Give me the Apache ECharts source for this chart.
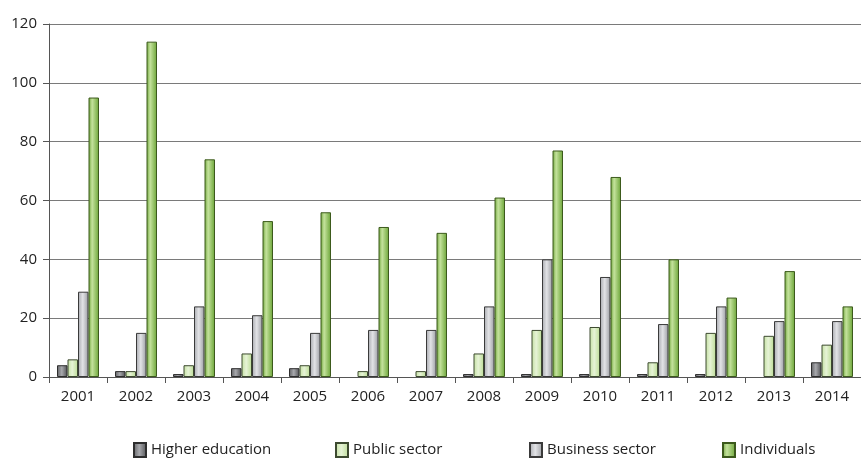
<!DOCTYPE html>
<html>
<head>
<meta charset="utf-8">
<script src="https://cdn.jsdelivr.net/npm/echarts@6/dist/echarts.min.js"></script>
<style>
  html, body { margin: 0; padding: 0; background: #fff; }
  #chart { width: 861px; height: 460px; }
</style>
</head>
<body>
<div id="chart"></div>
<script>
// Years on the category axis
const years = ['2001','2002','2003','2004','2005','2006','2007','2008','2009','2010','2011','2012','2013','2014'];

// Counts per sector and year
const higherEducation = [4, 2, 1, 3, 3, 0, 0, 1, 1, 1, 1, 1, 0, 5];
const publicSector    = [6, 2, 4, 8, 4, 2, 2, 8, 16, 17, 5, 15, 14, 11];
const businessSector  = [29, 15, 24, 21, 15, 16, 16, 24, 40, 34, 18, 24, 19, 19];
const individuals     = [95, 114, 74, 53, 56, 51, 49, 61, 77, 68, 40, 27, 36, 24];

const seriesNames = ['Higher education', 'Public sector', 'Business sector', 'Individuals'];

const FONT = '"Open Sans", "Noto Sans", sans-serif';

function hGrad(stops) {
  return new echarts.graphic.LinearGradient(0, 0, 1, 0,
    stops.map(s => ({ offset: s[0], color: s[1] })));
}

const fills = [
  hGrad([[0, '#5e5f62'], [0.45, '#a8a9ad'], [1, '#4f5053']]),
  hGrad([[0, '#c3e0a0'], [0.45, '#e6f3d6'], [1, '#bcdc96']]),
  hGrad([[0, '#a7a9ae'], [0.45, '#e2e3e6'], [1, '#9a9ca1']]),
  hGrad([[0, '#6ea53a'], [0.35, '#c4e29c'], [1, '#6aa436']])
];
const borders = ['#2e2e2e', '#3d4a30', '#3a3a3a', '#3c5a1c'];
const legendLeft = [128, 330, 524, 717];

const dataSets = [higherEducation, publicSector, businessSector, individuals];

// a zero count draws no bar at all
const toBars = arr => arr.map(v => (v === 0 ? '-' : v));

const chart = echarts.init(document.getElementById('chart'), null, { renderer: 'canvas' });

chart.setOption({
  animation: false,
  backgroundColor: '#ffffff',
  // plot area runs slightly past the right edge of the canvas
  grid: { left: 49, width: 817, top: 24, bottom: 83, containLabel: false },
  legend: seriesNames.map((n, i) => ({
    data: [n],
    left: legendLeft[i],
    top: 437,
    icon: 'rect',
    itemWidth: 12,
    itemHeight: 14,
    itemGap: 6,
    textStyle: { fontFamily: FONT, fontSize: 15, color: '#222' }
  })),
  xAxis: {
    type: 'category',
    data: years,
    boundaryGap: true,
    axisLine: { show: true, lineStyle: { color: '#555', width: 1 } },
    axisTick: { show: true, length: 6, interval: 0, lineStyle: { color: '#555' } },
    axisLabel: { fontFamily: FONT, fontSize: 15, color: '#222', margin: 12, interval: 0 }
  },
  yAxis: {
    type: 'value',
    min: 0,
    max: 120,
    interval: 20,
    axisLine: { show: true, lineStyle: { color: '#555', width: 1 } },
    axisTick: { show: true, length: 6, lineStyle: { color: '#555' } },
    axisLabel: { fontFamily: FONT, fontSize: 15, color: '#222', margin: 12 },
    splitLine: { show: true, lineStyle: { color: '#7a7a7a', width: 1 } }
  },
  series: seriesNames.map((n, i) => ({
    name: n,
    type: 'bar',
    data: toBars(dataSets[i]),
    barWidth: 10.5,
    barGap: '0%',
    itemStyle: { color: fills[i], borderColor: borders[i], borderWidth: 1 }
  }))
});
</script>
</body>
</html>
